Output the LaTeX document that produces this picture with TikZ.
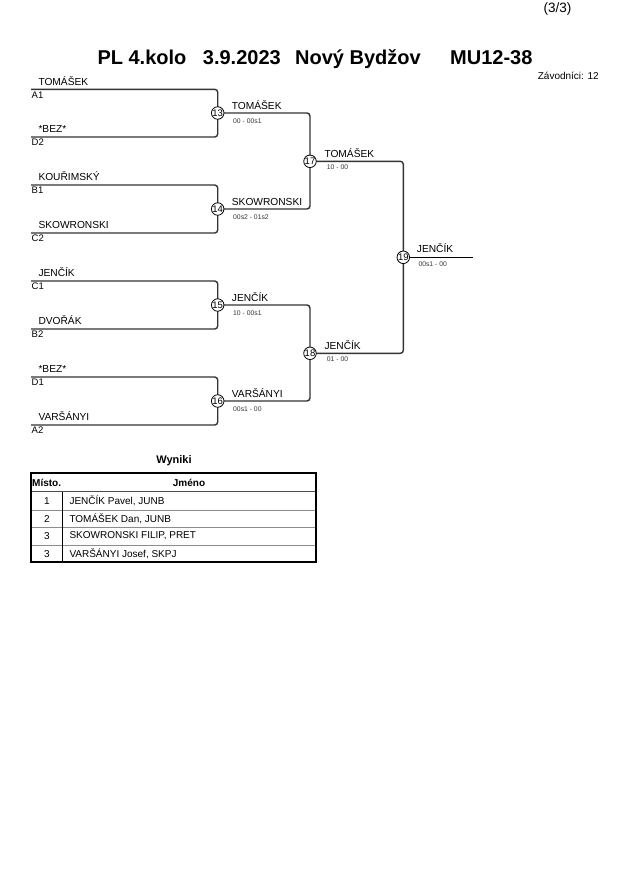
\documentclass[tikz,border=0pt]{standalone}
\usepackage{fontspec}
\setmainfont{Liberation Sans}
\usetikzlibrary{backgrounds}
\begin{document}
\begin{tikzpicture}[x=1pt,y=-1pt,
  bline/.style={line width=1.4pt,draw=black!80,rounded corners=3pt},
  mnum/.style={circle,draw=black,line width=0.8pt,fill=white,inner sep=0pt,minimum size=12.5pt,font=\fontsize{9.5}{10}\selectfont},
  pname/.style={anchor=base west,inner sep=0pt,font=\fontsize{10.2}{11}\selectfont},
  seed/.style={anchor=base west,inner sep=0pt,font=\fontsize{9.5}{10}\selectfont},
  score/.style={anchor=west,inner sep=0pt,font=\fontsize{6.8}{7}\selectfont,text=black!80},
  ttl/.style={anchor=base west,inner sep=0pt,font=\fontsize{20}{22}\selectfont\bfseries},
  tcell/.style={inner sep=0pt,font=\fontsize{10}{11}\selectfont}]
\useasboundingbox (0,0) rectangle (630,891);
% header
\node[anchor=base west,inner sep=0pt,font=\fontsize{13.5}{14}\selectfont] (pg) at (543.3,12.7) {(3/3)};
\node[ttl] (t1) at (97.3,64.3) {PL 4.kolo};
\node[ttl] (t2) at (202.7,64.3) {3.9.2023};
\node[ttl] (t3) at (295,64.3) {Nový Bydžov};
\node[ttl] (t4) at (450,64.3) {MU12-38};
\node[anchor=base east,inner sep=0pt,font=\fontsize{10}{11}\selectfont] (zav) at (599,80) {Závodníci: 12};
% slot coordinates
\coordinate (sa1) at (31,89.3);
\coordinate (sd2) at (31,137);
\coordinate (sb1) at (31,185);
\coordinate (sc2) at (31,233);
\coordinate (sc1) at (31,281);
\coordinate (sb2) at (31,329);
\coordinate (sd1) at (31,377);
\coordinate (sa2) at (31,425);
\coordinate (fin) at (472.7,257.3);
% match circles
\node[mnum] (m13) at (217.7,113) {13};
\node[mnum] (m14) at (217.7,209) {14};
\node[mnum] (m15) at (217.7,305) {15};
\node[mnum] (m16) at (217.7,401) {16};
\node[mnum] (m17) at (310,161.3) {17};
\node[mnum] (m18) at (310,353.3) {18};
\node[mnum] (m19) at (403.3,257.3) {19};
% lines
\begin{scope}[on background layer]
\draw[bline] (sa1) -| (m13.center);
\draw[bline] (sd2) -| (m13.center);
\draw[bline] (sb1) -| (m14.center);
\draw[bline] (sc2) -| (m14.center);
\draw[bline] (sc1) -| (m15.center);
\draw[bline] (sb2) -| (m15.center);
\draw[bline] (sd1) -| (m16.center);
\draw[bline] (sa2) -| (m16.center);
\draw[bline] (m13.center) -| (m17.center);
\draw[bline] (m14.center) -| (m17.center);
\draw[bline] (m15.center) -| (m18.center);
\draw[bline] (m16.center) -| (m18.center);
\draw[bline] (m17.center) -| (m19.center);
\draw[bline] (m18.center) -| (m19.center);
\draw[line width=1.2pt,draw=black] (m19.center) -- (fin);
\end{scope}
% round 1 names and seeds
\node[pname] (na1) at (38.3,85) {TOMÁŠEK};
\node[seed] (la1) at (31.5,98) {A1};
\node[pname] (nd2) at (38.3,132.7) {*BEZ*};
\node[seed] (ld2) at (31.5,145.7) {D2};
\node[pname] (nb1) at (38.3,180.7) {KOUŘIMSKÝ};
\node[seed] (lb1) at (31.5,193.7) {B1};
\node[pname] (nc2) at (38.3,228.7) {SKOWRONSKI};
\node[seed] (lc2) at (31.5,241.7) {C2};
\node[pname] (nc1) at (38.3,276.7) {JENČÍK};
\node[seed] (lc1) at (31.5,289.7) {C1};
\node[pname] (nb2) at (38.3,324.7) {DVOŘÁK};
\node[seed] (lb2) at (31.5,337.7) {B2};
\node[pname] (nd1) at (38.3,372.7) {*BEZ*};
\node[seed] (ld1) at (31.5,385.7) {D1};
\node[pname] (na2) at (38.3,420.7) {VARŠÁNYI};
\node[seed] (la2) at (31.5,433.7) {A2};
% round 2
\node[pname] (w13) at (231.7,109) {TOMÁŠEK};
\node[score] (s13) at (233,120.7) {00 - 00s1};
\node[pname] (w14) at (231.7,205) {SKOWRONSKI};
\node[score] (s14) at (233,216.7) {00s2 - 01s2};
\node[pname] (w15) at (231.7,301) {JENČÍK};
\node[score] (s15) at (233,312.7) {10 - 00s1};
\node[pname] (w16) at (231.7,397) {VARŠÁNYI};
\node[score] (s16) at (233,408.7) {00s1 - 00};
% round 3
\node[pname] (w17) at (324.3,157) {TOMÁŠEK};
\node[score] (s17) at (326.7,166.7) {10 - 00};
\node[pname] (w18) at (324.3,349) {JENČÍK};
\node[score] (s18) at (326.7,358.7) {01 - 00};
% final
\node[pname] (w19) at (416.7,252.7) {JENČÍK};
\node[score] (s19) at (418.3,264.3) {00s1 - 00};
% results table
\node[inner sep=0pt,font=\fontsize{11}{12}\selectfont\bfseries] (wyn) at (174,461) {Wyniki};
\draw[line width=0.8pt,draw=black!70] (31,491.7) -- (315.7,491.7);
\draw[line width=0.8pt,draw=black!45] (31,510) -- (315.7,510);
\draw[line width=0.8pt,draw=black!45] (31,527.3) -- (315.7,527.3);
\draw[line width=0.8pt,draw=black!45] (31,545) -- (315.7,545);
\draw[line width=1.3pt,draw=black] (62.7,491.7) -- (62.7,562.3);
\draw[line width=2.2pt,draw=black] (31,473.3) rectangle (315.7,562.3);
\node[tcell,anchor=west,font=\fontsize{10}{11}\selectfont\bfseries] (hm) at (32,482.5) {Místo.};
\node[tcell,font=\fontsize{10}{11}\selectfont\bfseries] (hj) at (189,482.5) {Jméno};
\node[tcell] (r1a) at (47,500.8) {1};
\node[tcell,anchor=west] (r1b) at (69.3,500.8) {JENČÍK Pavel, JUNB};
\node[tcell] (r2a) at (47,518.6) {2};
\node[tcell,anchor=west] (r2b) at (69.3,518.6) {TOMÁŠEK Dan, JUNB};
\node[tcell] (r3a) at (47,536.1) {3};
\node[tcell,anchor=west] (r3b) at (69.3,536.1) {SKOWRONSKI FILIP, PRET};
\node[tcell] (r4a) at (47,553.6) {3};
\node[tcell,anchor=west] (r4b) at (69.3,553.6) {VARŠÁNYI Josef, SKPJ};
\end{tikzpicture}
\end{document}
